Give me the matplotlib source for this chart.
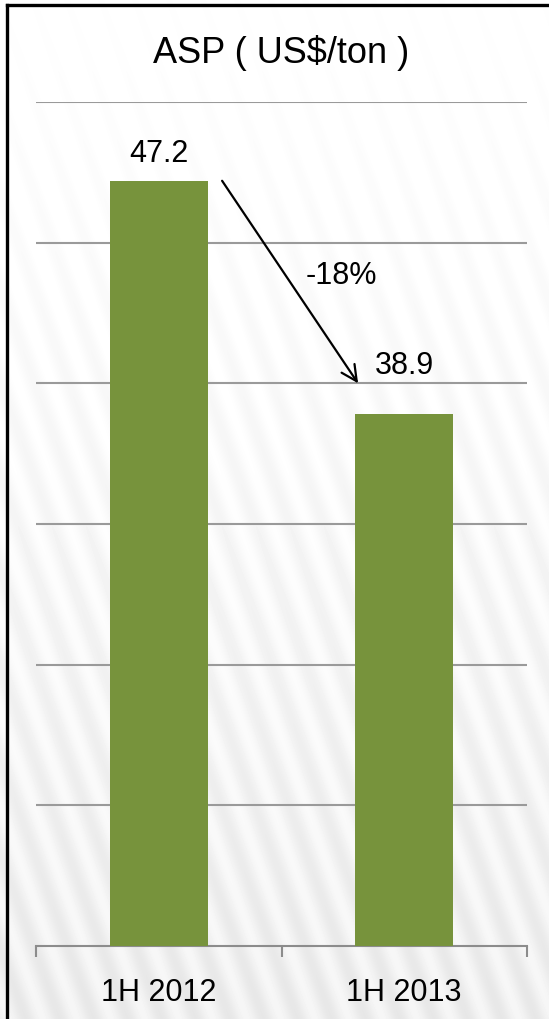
import numpy as np
import matplotlib
matplotlib.use("Agg")
import matplotlib.pyplot as plt
from matplotlib.lines import Line2D

# chart data
categories = ["1H 2012", "1H 2013"]
asp_values = [47.2, 38.9]
value_labels = ["47.2", "38.9"]
change_label = "-18%"
title = "ASP ( US$/ton )"

plt.rcParams['font.family'] = ['Liberation Sans', 'DejaVu Sans']

W, H = 549, 1019
fig = plt.figure(figsize=(W / 100, H / 100), dpi=100)

# background: light gradient with diagonal stripes
bg = fig.add_axes([0, 0, 1, 1], zorder=-10)
yy, xx = np.mgrid[0:H, 0:W]
base = 0.995 - 0.09 * (yy / H) ** 1.3
stripes = 0.5 + 0.5 * np.sin(2 * np.pi * (xx + 0.36 * (H - yy)) / 34.0)
img = base + 0.045 * (yy / H + 0.3) * stripes
img = np.clip(img, 0, 1)
bg.imshow(img, cmap="gray", vmin=0, vmax=1, aspect="auto", interpolation="bilinear")
bg.axis("off")

# frame lines on left and top
fig.add_artist(Line2D([7 / W, 7 / W], [0, 1 - 5 / H], color="black", lw=2.4, transform=fig.transFigure))
fig.add_artist(Line2D([7 / W, 1], [1 - 5 / H, 1 - 5 / H], color="black", lw=2.4, transform=fig.transFigure))

ax = fig.add_axes([36 / W, 1 - 946 / H, (527 - 36) / W, (946 - 102) / H])
ax.set_facecolor("none")

x = np.arange(len(categories))
ax.bar(x, asp_values, width=0.4, color="#77933C", zorder=3)

ax.set_xlim(-0.5, len(categories) - 0.5)
ax.set_ylim(20, 50)
ax.set_yticks(np.arange(25, 51, 5))
ax.yaxis.grid(True, color="#9a9a9a", lw=1.5)
ax.tick_params(axis="y", length=0, labelleft=False)

for s in ["top", "right", "left"]:
    ax.spines[s].set_visible(False)
ax.spines["bottom"].set_color("#8c8c8c")
ax.spines["bottom"].set_linewidth(1.5)

ax.set_xticks([-0.5, 0.5, 1.5])
ax.set_xticklabels([])
ax.tick_params(axis="x", which="major", length=8, width=1.5, color="#8c8c8c")
ax.set_xticks(x, minor=True)
ax.set_xticklabels(categories, minor=True, fontsize=22)
ax.tick_params(axis="x", which="minor", length=0, pad=23)

label_offsets = [19, 35]
for xi, v, lab, off in zip(x, asp_values, value_labels, label_offsets):
    ax.annotate(lab, (xi, v), xytext=(0, off), textcoords="offset points",
                ha="center", va="center", fontsize=22)

# change arrow
ax.annotate("", xy=(0.812, 40.0), xytext=(0.258, 47.2),
            arrowprops=dict(arrowstyle="->", color="black", lw=1.6,
                            mutation_scale=28, shrinkA=0, shrinkB=0))
ax.text(0.742, 43.8, change_label, ha="center", va="center", fontsize=22)

fig.text(281 / W, 1 - 53 / H, title, ha="center", va="center", fontsize=26)

fig.savefig("out.png", dpi=100)
